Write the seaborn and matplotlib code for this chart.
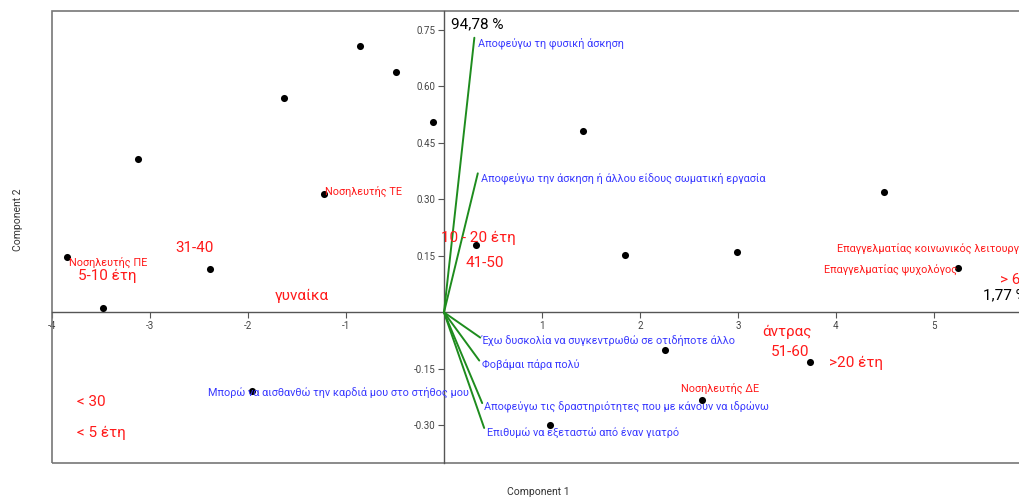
import matplotlib
matplotlib.use("Agg")
import matplotlib.pyplot as plt
from matplotlib.patches import Rectangle
import seaborn as sns
import pandas as pd

# ---- data: scores (black points) ----
score_x = [-3.85, -3.48, -3.12, -2.39, -1.96, -1.63, -1.22, -0.86, -0.49, -0.11,
           0.33, 1.42, 1.85, 2.99, 2.26, 2.63, 1.08, 3.73, 4.49, 5.25]
score_y = [0.147, 0.012, 0.407, 0.116, -0.210, 0.568, 0.313, 0.708, 0.639, 0.504,
           0.180, 0.481, 0.153, 0.159, -0.101, -0.234, -0.300, -0.132, 0.320, 0.118]

# ---- data: loadings (green vectors) ----
load_names = ["Αποφεύγω τη φυσική άσκηση",
              "Αποφεύγω την άσκηση ή άλλου είδους σωματική εργασία",
              "Έχω δυσκολία να συγκεντρωθώ σε οτιδήποτε άλλο",
              "Φοβάμαι πάρα πολύ",
              "Αποφεύγω τις δραστηριότητες που με κάνουν να ιδρώνω",
              "Επιθυμώ να εξεταστώ από έναν γιατρό"]
load_x = [0.31, 0.345, 0.37, 0.36, 0.39, 0.41]
load_y = [0.729, 0.369, -0.067, -0.128, -0.241, -0.307]

extra_var_label = "Μπορώ να αισθανθώ την καρδιά μου στο στήθος μου"

# ---- category labels ----
big_red_labels = ["10 - 20 έτη", "41-50", "31-40", "5-10 έτη", "γυναίκα",
                  "< 30", "< 5 έτη", "άντρας", "51-60", ">20 έτη", "> 60"]
small_red_labels = ["Νοσηλευτής ΤΕ", "Νοσηλευτής ΠΕ", "Νοσηλευτής ΔΕ",
                    "Επαγγελματίας κοινωνικός λειτουργός", "Επαγγελματίας ψυχολόγος"]
variance_labels = ["94,78 %", "1,77 %"]

x_ticks = [-4, -3, -2, -1, 1, 2, 3, 4, 5]
y_ticks = [-0.30, -0.15, 0.15, 0.30, 0.45, 0.60, 0.75]
y_tick_labels = ["-0.30", "-0.15", "0.15", "0.30", "0.45", "0.60", "0.75"]

# ---- layout (positions of annotations, data coords) ----
big_red_pos = [(-0.031, 0.197), (0.224, 0.130), (-2.745, 0.170), (-3.735, 0.096),
               (-1.724, 0.043), (-3.745, -0.239), (-3.745, -0.319), (3.245, -0.053),
               (3.337, -0.106), (3.929, -0.133), (5.67, 0.085)]
small_red_pos = [(-1.214, 0.322), (-3.827, 0.133), (2.418, -0.202),
                 (4.01, 0.168), (3.878, 0.112)]
load_label_pos = [(0.347, 0.715), (0.378, 0.356), (0.388, -0.074),
                  (0.388, -0.138), (0.408, -0.253), (0.439, -0.319)]
extra_var_pos = (-2.408, -0.213)
variance_pos = [(0.071, 0.766), (5.50, 0.045)]

sns.set_style("white")
plt.rcParams['font.family'] = ['Roboto', 'DejaVu Sans']

fig = plt.figure(figsize=(10.20, 4.99), dpi=100)
ax = fig.add_axes([52 / 1020, 36 / 499, 968 / 1020, 452 / 499])

RED = "#ff1a1a"
BLUE = "#3a3aff"
GREEN = "#1e8c1e"

# loadings
for lx, ly in zip(load_x, load_y):
    sns.lineplot(x=[0, lx], y=[0, ly], ax=ax, color=GREEN, linewidth=1.4,
                 sort=False, zorder=3)

# scores
df = pd.DataFrame({"x": score_x, "y": score_y})
sns.scatterplot(data=df, x="x", y="y", ax=ax, color="black", s=26,
                edgecolor="black", linewidth=0, zorder=4)

ax.set_xlim(-4, 5.878)
ax.set_ylim(-0.40, 0.80)

# spines through zero
for side in ["top", "right"]:
    ax.spines[side].set_visible(False)
ax.spines["left"].set_position(("data", 0))
ax.spines["bottom"].set_position(("data", 0))
for side in ["left", "bottom"]:
    ax.spines[side].set_color("#555555")
    ax.spines[side].set_linewidth(1.0)
ax.add_patch(Rectangle((0, 0), 1.05, 1, transform=ax.transAxes, fill=False,
                       edgecolor="#777777", linewidth=1.2, clip_on=False, zorder=1))

ax.set_xticks(x_ticks)
ax.set_xticklabels([str(t) for t in x_ticks])
ax.set_yticks(y_ticks)
ax.set_yticklabels(y_tick_labels)
ax.tick_params(axis="both", direction="out", length=4, width=0.8, color="#555555",
               labelsize=7, labelcolor="#444444", pad=2)
ax.tick_params(axis="x", bottom=True)
ax.tick_params(axis="y", left=True)

ax.set_xlabel("Component 1", fontsize=7.5, color="#333333")
ax.set_ylabel("Component 2", fontsize=7.5, color="#333333")
ax.xaxis.set_label_coords(0.502, -0.052)
ax.yaxis.set_label_coords(-0.030, 0.538)

# texts
for txt, (tx, ty) in zip(big_red_labels, big_red_pos):
    ax.text(tx, ty, txt, color=RED, fontsize=11, ha="left", va="center", zorder=5)
for txt, (tx, ty) in zip(small_red_labels, small_red_pos):
    ax.text(tx, ty, txt, color=RED, fontsize=7.8, ha="left", va="center", zorder=5)
for txt, (tx, ty) in zip(load_names, load_label_pos):
    ax.text(tx, ty, txt, color=BLUE, fontsize=7.8, ha="left", va="center", zorder=5)
ax.text(extra_var_pos[0], extra_var_pos[1], extra_var_label, color=BLUE,
        fontsize=7.8, ha="left", va="center", zorder=5)
for txt, (tx, ty) in zip(variance_labels, variance_pos):
    ax.text(tx, ty, txt, color="black", fontsize=11, ha="left", va="center", zorder=5)

fig.savefig("out.png", dpi=100)
